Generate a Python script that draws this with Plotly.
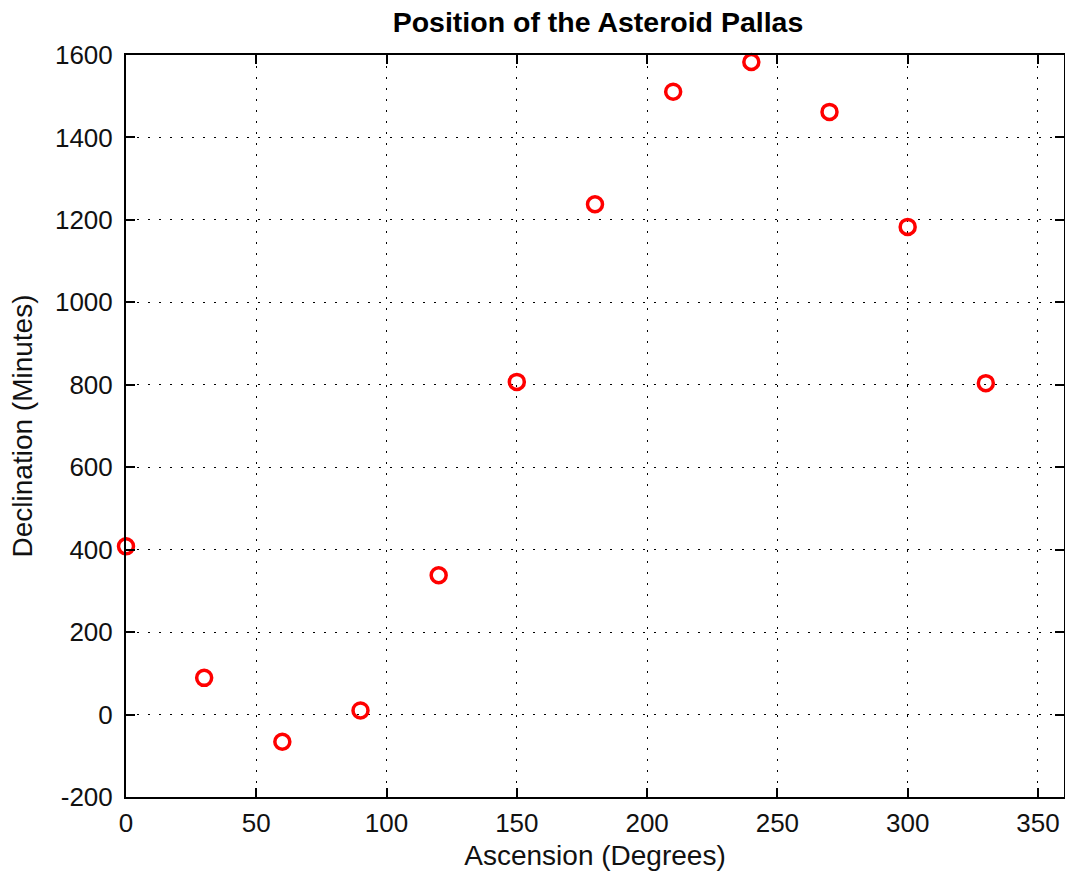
import plotly.graph_objects as go

ascension = [0, 30, 60, 90, 120, 150, 180, 210, 240, 270, 300, 330]
declination = [408, 89, -66, 10, 338, 807, 1238, 1511, 1583, 1462, 1183, 804]

x_ticks = [0, 50, 100, 150, 200, 250, 300, 350]
y_ticks = [-200, 0, 200, 400, 600, 800, 1000, 1200, 1400, 1600]

fig = go.Figure()
fig.add_trace(go.Scatter(
    x=ascension, y=declination, mode="markers",
    marker=dict(symbol="circle-open", size=15, color="#ff0000",
                line=dict(width=3.5, color="#ff0000")),
    showlegend=False, cliponaxis=False,
))

font = "Liberation Sans, Arial, sans-serif"
axis_common = dict(
    showgrid=True, gridcolor="#000000", gridwidth=1, griddash="2px,9px",
    zeroline=False, showline=True, linecolor="#000000", linewidth=2,
    mirror="ticks", ticks="inside", ticklen=9, tickwidth=2, tickcolor="#000000",
    tickfont=dict(family=font, size=26, color="#111111"),
    automargin=False,
)

fig.update_layout(
    width=1065, height=875,
    margin=dict(l=126, r=1, t=55, b=78, autoexpand=False),
    paper_bgcolor="white", plot_bgcolor="white",
    title=dict(text="<b>Position of the Asteroid Pallas</b>", x=0.5615, xanchor="center",
               y=1 - 22 / 875, yanchor="middle",
               font=dict(family=font, size=28.5, color="#000000")),
    xaxis=dict(range=[0, 360], tickvals=x_ticks, ticktext=[str(v) for v in x_ticks],
               ticklabelstandoff=2,
               title=dict(text="Ascension (Degrees)", standoff=8,
                          font=dict(family=font, size=28, color="#111111")),
               **axis_common),
    yaxis=dict(range=[-200, 1600], tickvals=y_ticks, ticktext=[str(v) for v in y_ticks],
               ticklabelstandoff=6,
               title=dict(text="Declination (Minutes)", standoff=14,
                          font=dict(family=font, size=28, color="#111111")),
               **axis_common),
)

fig.write_html("out.html", config={"displayModeBar": False},
               post_script="document.body.style.margin='0';document.body.style.overflow='hidden';")
